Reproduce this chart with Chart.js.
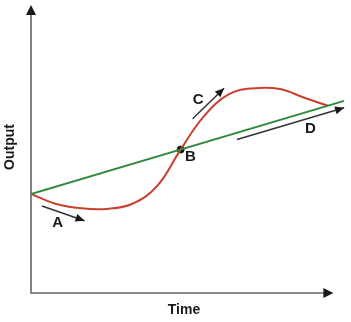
<!DOCTYPE html>
<html>
<head>
<meta charset="utf-8">
<script src="https://cdn.jsdelivr.net/npm/chart.js@4/dist/chart.umd.min.js"></script>
<style>
  body { margin: 0; background: #fff; }
  canvas { display: block; }
</style>
</head>
<body>
<canvas id="chart" width="351" height="322"></canvas>
<script>
// values (time 0..100, output 0..100)
const curveX = [0, 8, 16, 24, 32, 40, 47.5, 55, 63, 71, 79, 87, 94.3];
const curveY = [34.4, 30.9, 29.4, 29.2, 30.9, 37.1, 49.8, 61.5, 69.1, 71.1, 70.8, 67.7, 65.0];
const lineX = [0, 99.4];
const lineY = [34.4, 66.7];
const pointB = [47.5, 49.8];

const arrowNames = ["A", "C", "D"];
const arrowFrom = [[3.5, 30.2], [51.3, 60.5], [65.4, 53.3]];
const arrowTo = [[17.0, 25.1], [61.3, 71.1], [99.4, 64.3]];

const labelNames = ["A", "B", "C", "D"];
const labelPos = [[8.5, 24.4], [50.6, 47.4], [53.1, 67.0], [88.7, 57.0]];

const axisTitles = ["Time", "Output"];

function pairs(xs, ys) {
  return xs.map((x, i) => ({ x: x, y: ys[i] }));
}

function arrowHead(ctx, x1, y1, x2, y2, len, half, color) {
  let a = Math.atan2(y2 - y1, x2 - x1);
  ctx.save();
  ctx.fillStyle = color;
  ctx.beginPath();
  ctx.moveTo(x2, y2);
  ctx.lineTo(x2 - len * Math.cos(a) + half * Math.sin(a), y2 - len * Math.sin(a) - half * Math.cos(a));
  ctx.lineTo(x2 - len * Math.cos(a) - half * Math.sin(a), y2 - len * Math.sin(a) + half * Math.cos(a));
  ctx.closePath();
  ctx.fill();
  ctx.restore();
}

const decorations = {
  id: "decorations",
  beforeDatasetsDraw(chart) {
    const ctx = chart.ctx;
    const xs = chart.scales.x, ys = chart.scales.y;
    const x0 = xs.getPixelForValue(0), y0 = ys.getPixelForValue(0);
    ctx.save();
    ctx.strokeStyle = "#666";
    ctx.lineWidth = 1.6;
    ctx.beginPath();
    ctx.moveTo(x0, ys.getPixelForValue(98));
    ctx.lineTo(x0, y0);
    ctx.lineTo(xs.getPixelForValue(94.5), y0);
    ctx.stroke();
    ctx.restore();
    arrowHead(ctx, x0, y0, x0, ys.getPixelForValue(100), 10, 5, "#1a1a1a");
    arrowHead(ctx, x0, y0, xs.getPixelForValue(96), y0, 10, 5, "#1a1a1a");

    ctx.save();
    ctx.fillStyle = "#1a1a1a";
    ctx.font = "bold 14px 'Liberation Sans', Arial, sans-serif";
    ctx.textAlign = "center";
    ctx.textBaseline = "middle";
    ctx.fillText(axisTitles[0], 184, 310);
    ctx.translate(10, 147);
    ctx.rotate(-Math.PI / 2);
    ctx.fillText(axisTitles[1], 0, 0);
    ctx.restore();
  },
  afterDatasetsDraw(chart) {
    const ctx = chart.ctx;
    const xs = chart.scales.x, ys = chart.scales.y;
    arrowNames.forEach((n, i) => {
      arrowHead(ctx,
        xs.getPixelForValue(arrowFrom[i][0]), ys.getPixelForValue(arrowFrom[i][1]),
        xs.getPixelForValue(arrowTo[i][0]), ys.getPixelForValue(arrowTo[i][1]),
        9, 4, "#1a1a1a");
    });
    ctx.save();
    ctx.fillStyle = "#1a1a1a";
    ctx.font = "bold 15px 'Liberation Sans', Arial, sans-serif";
    ctx.textAlign = "center";
    ctx.textBaseline = "middle";
    labelNames.forEach((n, i) => {
      ctx.fillText(n, xs.getPixelForValue(labelPos[i][0]), ys.getPixelForValue(labelPos[i][1]));
    });
    ctx.restore();
  }
};

const datasets = [
  {
    data: pairs(lineX, lineY),
    borderColor: "#2f8a3c",
    borderWidth: 2,
    pointRadius: 0,
    tension: 0
  },
  {
    data: pairs(curveX, curveY),
    borderColor: "#c9402f",
    borderWidth: 2,
    pointRadius: 0,
    tension: 0.4
  }
];

arrowNames.forEach((n, i) => {
  datasets.push({
    data: [{ x: arrowFrom[i][0], y: arrowFrom[i][1] }, { x: arrowTo[i][0], y: arrowTo[i][1] }],
    borderColor: "#333",
    borderWidth: 1.5,
    pointRadius: 0
  });
});

datasets.push({
  data: [{ x: pointB[0], y: pointB[1] }],
  showLine: false,
  pointRadius: 3.5,
  pointBackgroundColor: "#111",
  pointBorderColor: "#111"
});

new Chart(document.getElementById("chart"), {
  type: "line",
  data: { datasets: datasets },
  options: {
    responsive: false,
    animation: false,
    layout: { padding: { left: 31, right: 2, top: 2, bottom: 29 } },
    plugins: { legend: { display: false }, tooltip: { enabled: false } },
    scales: {
      x: { type: "linear", min: 0, max: 100, display: false },
      y: { type: "linear", min: 0, max: 100, display: false }
    }
  },
  plugins: [decorations]
});
</script>
</body>
</html>
